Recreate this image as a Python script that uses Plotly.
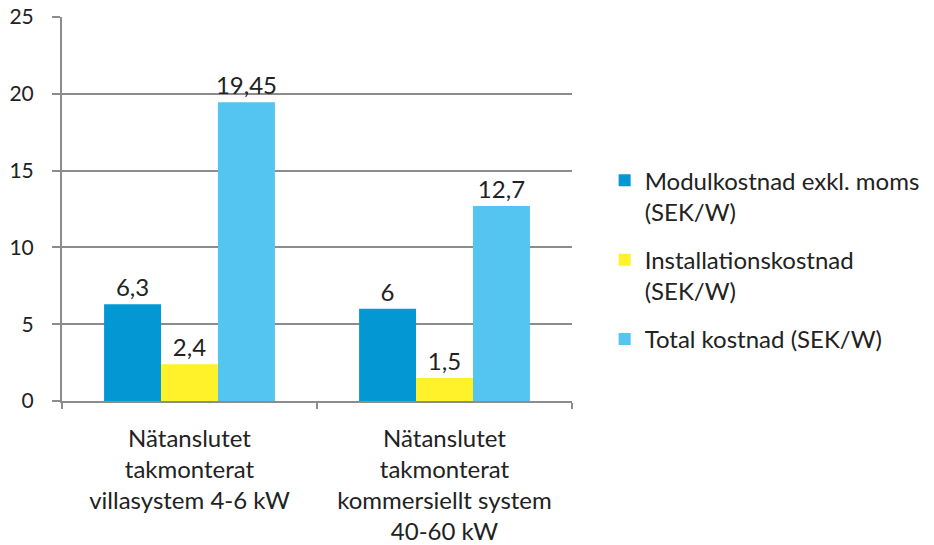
import plotly.graph_objects as go

categories = ["Nätanslutet<br>takmonterat<br>villasystem 4-6 kW",
              "Nätanslutet<br>takmonterat<br>kommersiellt system<br>40-60 kW"]
series_names = ["Modulkostnad exkl. moms<br>(SEK/W)",
                "Installationskostnad<br>(SEK/W)",
                "Total kostnad (SEK/W)"]
modul = [6.3, 6]
installation = [2.4, 1.5]
total = [19.45, 12.7]
y_ticks = [0, 5, 10, 15, 20, 25]
colors = ["#0398D4", "#FFF22A", "#53C5F0"]

FONT = "Lato"
fs = 24

def fmt(v):
    s = ("%g" % v)
    return s.replace(".", ",")

fig = go.Figure()
for i, (name, vals, col) in enumerate(zip(series_names, [modul, installation, total], colors)):
    fig.add_trace(go.Bar(
        x=categories, y=vals, name=name, marker_color=col,
        marker_line_width=0, legendgroup=f"g{i}",
        text=[fmt(v) for v in vals], textposition="outside",
        textfont=dict(family=FONT, size=fs, color="#222"),
        cliponaxis=False,
    ))

fig.update_layout(
    width=926, height=537,
    margin=dict(l=54, r=356, t=9, b=144),
    paper_bgcolor="white", plot_bgcolor="white",
    barmode="group", bargap=0.33, bargroupgap=0,
    font=dict(family=FONT, size=fs, color="#222"),
    showlegend=True,
    legend=dict(x=1.064, y=0.368, xanchor="left", yanchor="middle",
                valign="top", font=dict(family=FONT, size=fs, color="#222"),
                tracegroupgap=14, itemwidth=30),
    uniformtext=dict(minsize=fs, mode="show"),
)
fig.update_yaxes(range=[0, 25], tickmode="array", tickvals=y_ticks,
                 ticktext=[str(t) for t in y_ticks],
                 tickfont=dict(family=FONT, size=21, color="#222"),
                 showgrid=True, gridcolor="#8C8C8C",
                 gridwidth=2, showline=True, linecolor="#8C8C8C", linewidth=2,
                 ticks="outside", ticklen=8, tickcolor="#8C8C8C", tickwidth=2,
                 zeroline=False, ticklabelstandoff=14, automargin=False,
                 ticklabeloverflow="allow")
fig.update_xaxes(showline=True, linecolor="#8C8C8C", linewidth=2,
                 ticks="outside", tickson="boundaries", ticklen=6,
                 tickcolor="#8C8C8C", tickwidth=2, showgrid=False,
                 automargin=False, ticklabelstandoff=15)

fig.write_html("out.html")
